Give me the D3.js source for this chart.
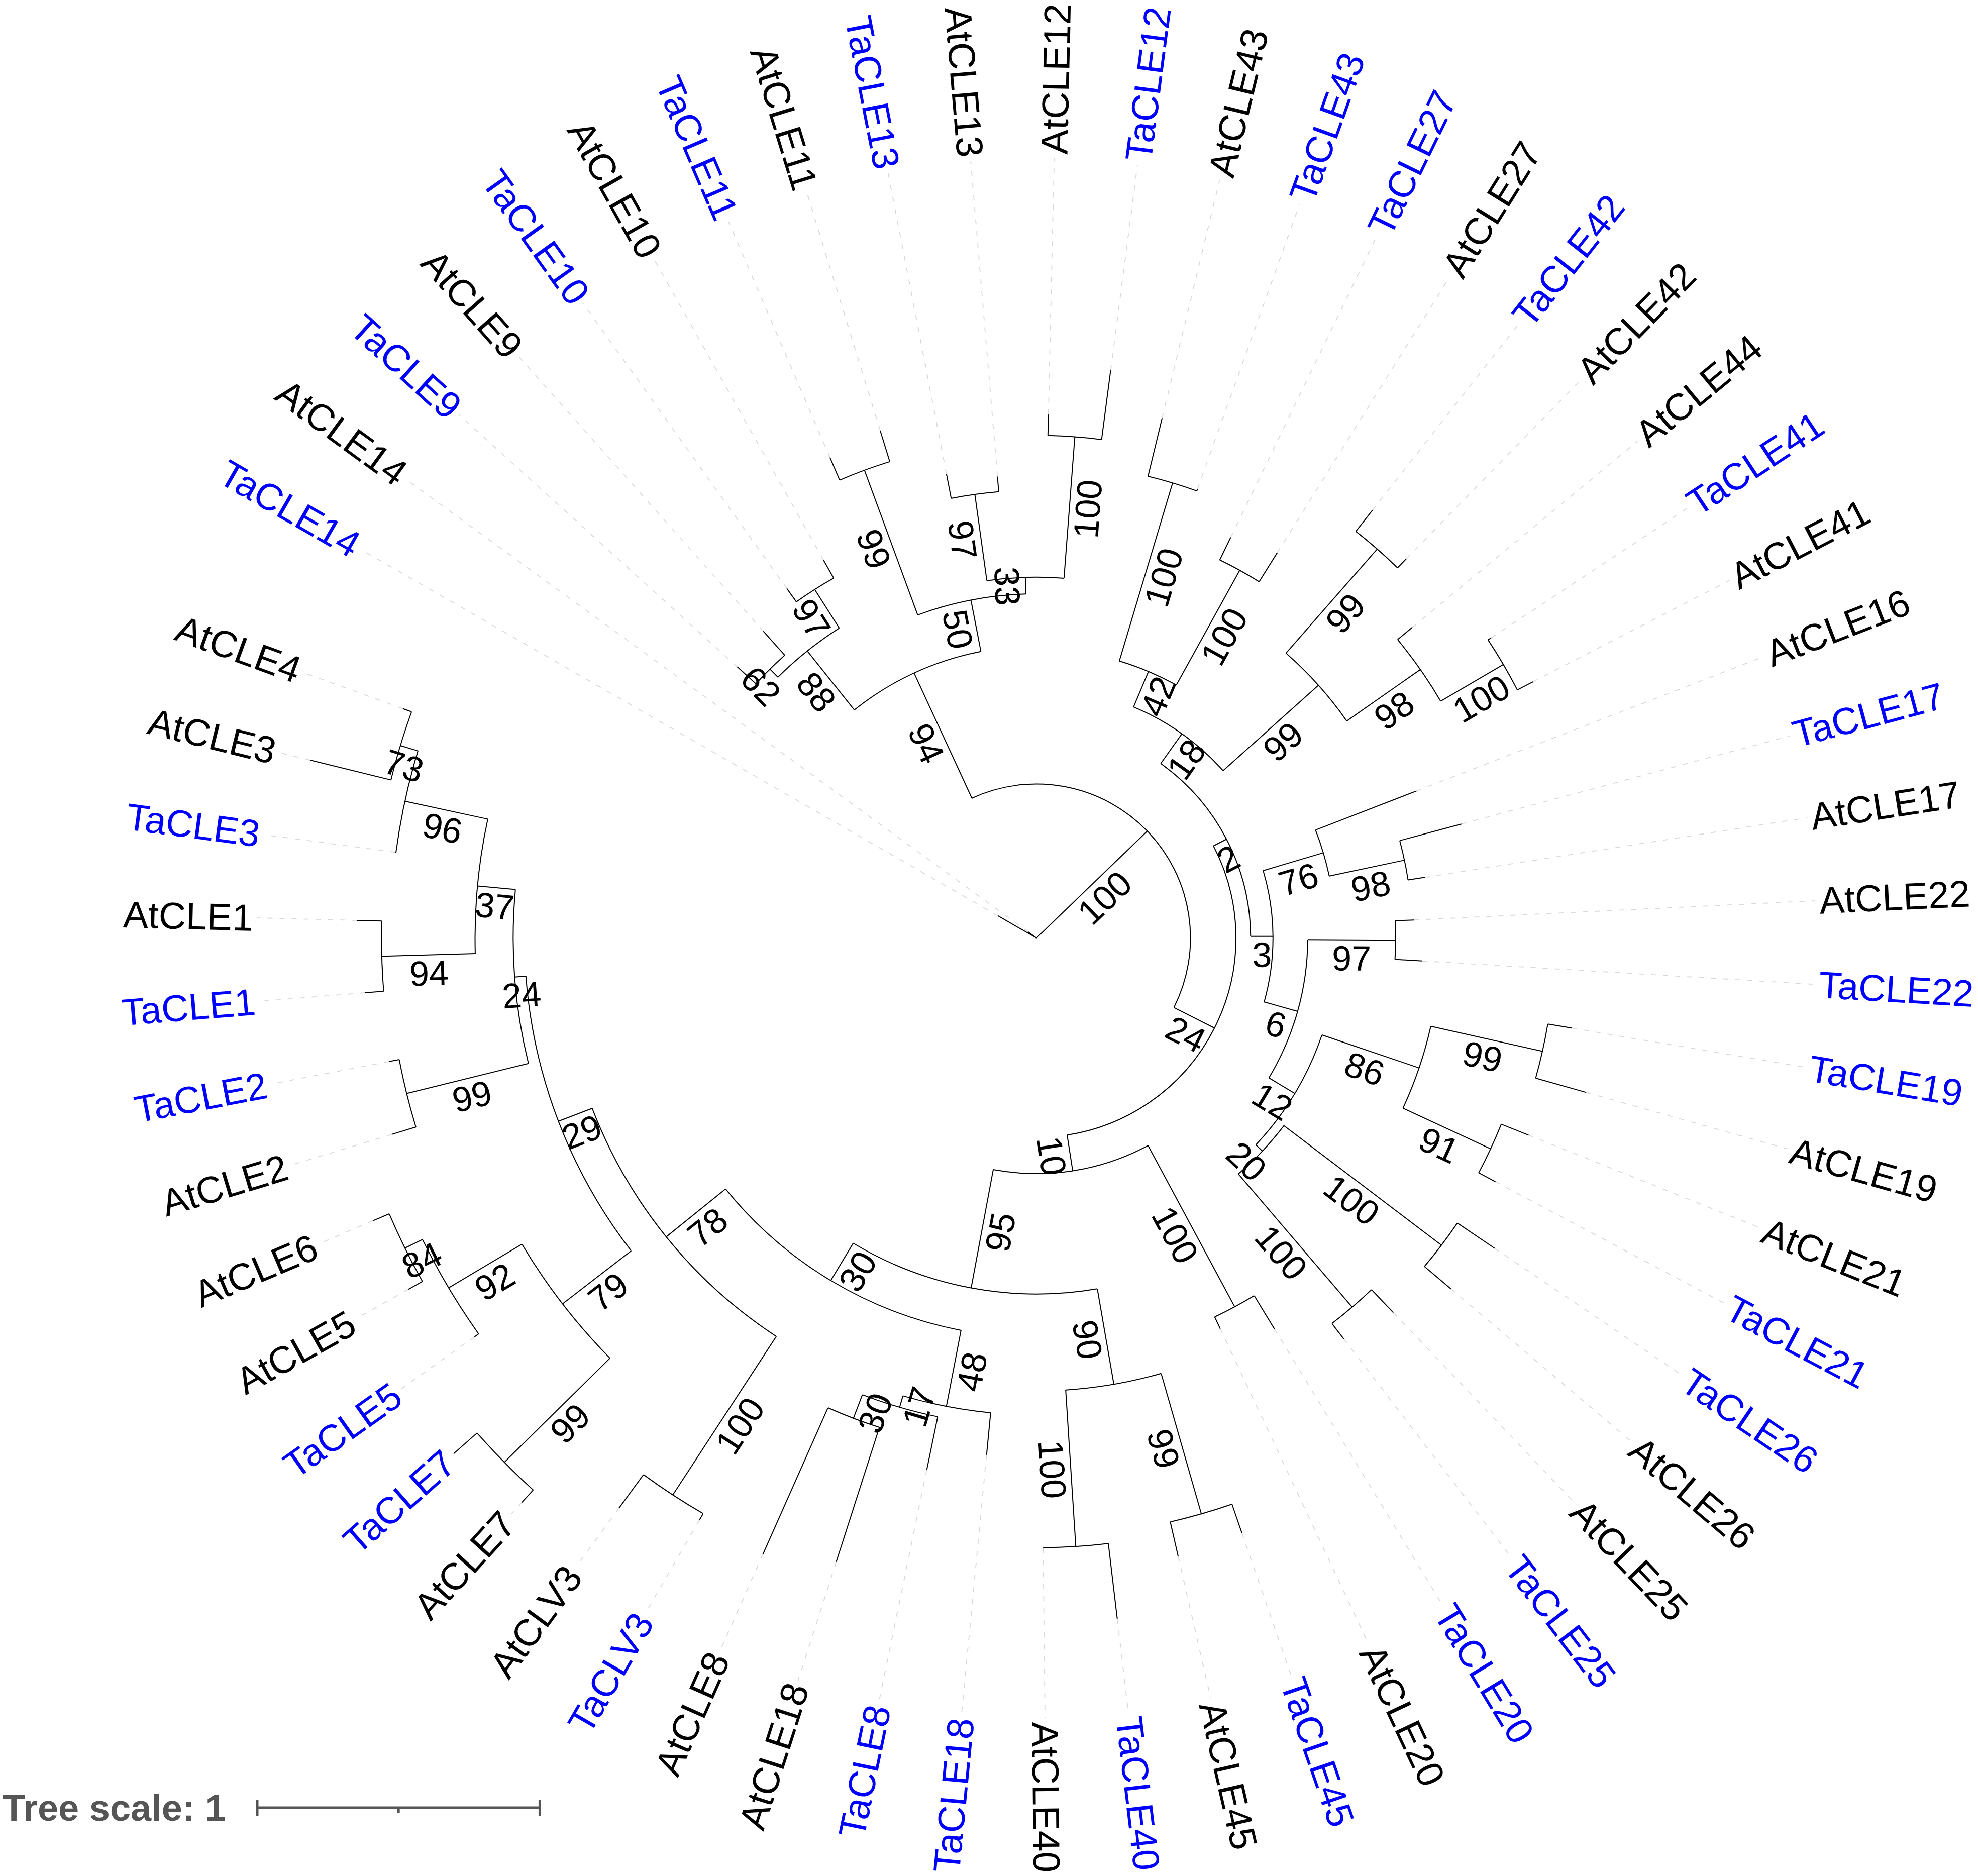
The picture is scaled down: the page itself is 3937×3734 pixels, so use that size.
<!DOCTYPE html>
<html><head><meta charset="utf-8">
<script src="https://cdn.jsdelivr.net/npm/d3@7"></script>
<style>html,body{margin:0;padding:0;background:#fff;} svg{display:block;}</style>
</head><body>
<svg id="chart" width="3937" height="3734"></svg>
<script>
// ---------- DATA ----------
// Leaves in clockwise display order
const leafNames = ["TaCLE14","AtCLE14","TaCLE9","AtCLE9","TaCLE10","AtCLE10","TaCLE11","AtCLE11","TaCLE13","AtCLE13",
 "AtCLE12","TaCLE12","AtCLE43","TaCLE43","TaCLE27","AtCLE27","TaCLE42","AtCLE42","AtCLE44","TaCLE41",
 "AtCLE41","AtCLE16","TaCLE17","AtCLE17","AtCLE22","TaCLE22","TaCLE19","AtCLE19","AtCLE21","TaCLE21",
 "TaCLE26","AtCLE26","AtCLE25","TaCLE25","TaCLE20","AtCLE20","TaCLE45","AtCLE45","TaCLE40","AtCLE40",
 "TaCLE18","TaCLE8","AtCLE18","AtCLE8","TaCLV3","AtCLV3","AtCLE7","TaCLE7","TaCLE5","AtCLE5",
 "AtCLE6","AtCLE2","TaCLE2","TaCLE1","AtCLE1","TaCLE3","AtCLE3","AtCLE4"];
const leafParents = ["root","root","i4","i4","i5","i5","i7","i7","i9","i9",
 "i10","i10","i15","i15","i16","i16","i18","i18","i19","i20",
 "i20","i22","i23","i23","i25","i25","i28","i28","i29","i29",
 "i31","i31","i32","i32","i34","i34","i37","i37","i38","i38",
 "i40","i41","i42","i42","i44","i44","i47","i47","i48","i49",
 "i49","i51","i51","i53","i53","i54","i55","i55"];
const leafLengths = [0.157,0.036,0.089,0.114,0.058,0.074,0.087,0.115,0.088,0.054,
 0.074,0.249,0.212,0.007,0.089,0.121,0.095,0.045,0.068,0.014,
 0.063,0.383,0.226,0.060,0.067,0.097,0.086,0.186,0.104,0.067,
 0.159,0.123,0.112,0.069,0.138,0.046,0.108,0.125,0.268,0.001,
 0.150,0.192,0.500,0.567,0.027,0.147,0.059,0.109,0.018,0.058,
 0.063,0.089,0.036,0.067,0.088,0.002,0.294,0.033];
// Internal nodes
const nodeNames = ["i1","i2","i3","i4","i5","i6","i7","i8","i9","i10",
 "i11","i12","i13","i14","i15","i16","i17","i18","i19","i20",
 "i21","i22","i23","i24","i25","i26","i27","i28","i29","i30",
 "i31","i32","i33","i34","i35","i36","i37","i38","i39","i40",
 "i41","i42","i43","i44","i45","i46","i47","i48","i49","i50",
 "i51","i52","i53","i54","i55"];
const nodeParents = ["root","i1","i2","i3","i3","i2","i6","i6","i8","i8",
 "i1","i11","i12","i13","i14","i14","i13","i17","i17","i19",
 "i12","i21","i22","i21","i24","i24","i26","i27","i27","i26",
 "i30","i30","i11","i33","i33","i35","i36","i36","i35","i39",
 "i40","i41","i39","i43","i43","i45","i46","i46","i48","i45",
 "i50","i50","i52","i52","i54"];
const nodeSupport = [100,94,88,62,97,50,99,33,97,100,
 24,2,18,42,100,100,99,99,98,100,
 3,76,98,6,97,12,86,99,91,20,
 100,100,10,100,95,90,99,100,30,48,
 17,30,78,100,29,79,99,92,84,24,
 99,37,94,96,73];
const nodeLengths = [0.545,0.488,0.267,0.040,0.162,0.185,0.546,0.059,0.308,0.502,
 0.161,0.052,0.129,0.136,0.658,0.464,0.453,0.490,0.318,0.257,
 0.079,0.222,0.272,0.123,0.311,0.107,0.363,0.405,0.342,0.032,
 0.700,0.620,0.128,0.648,0.426,0.343,0.517,0.555,0.154,0.274,
 0.042,0.089,0.270,0.670,0.128,0.307,0.525,0.302,0.069,0.040,
 0.444,0.135,0.331,0.300,0.065];
const scaleTicks = [0, 0.5, 1];
const scaleTitle = "Tree scale: 1";

// ---------- LAYOUT ----------
const W = 3937, H = 3734;
const cx = 2063, cy = 1867;
const unitPx = 562.4;
const labelR = 1560;
const FONT = "'Liberation Sans', Arial, Helvetica, sans-serif";

const rows = [{id:"root", parent:null, len:0}]
  .concat(nodeNames.map((n,i)=>({id:n, parent:nodeParents[i], len:nodeLengths[i], support:nodeSupport[i]})))
  .concat(leafNames.map((n,i)=>({id:n, parent:leafParents[i], len:leafLengths[i], leafIndex:i})));
const root = d3.stratify().id(d=>d.id).parentId(d=>d.parent)(rows);
root.eachAfter(n => { n.minIdx = n.children ? d3.min(n.children, c=>c.minIdx) : n.data.leafIndex; });
root.sort((a,b)=>a.minIdx-b.minIdx);
root.eachBefore(n => { n.dist = n.parent ? n.parent.dist + n.data.len : 0; });

const rScale = d3.scaleLinear().domain([0,1]).range([0, unitPx]);
const aScale = d3.scaleLinear().domain([0, leafNames.length-1]).range([-150.1, 199.9]);
root.eachAfter(n => {
  n.theta = n.children ? (n.children[0].theta + n.children[n.children.length-1].theta)/2 : aScale(n.data.leafIndex);
});

const rad = d => d*Math.PI/180;
const pt = (rr, th) => [rr*Math.cos(rad(th)), rr*Math.sin(rad(th))];
const norm = t => ((t+180)%360+360)%360-180;
const isRight = t => { const n = norm(t); return n > -90 && n <= 90; };

const svg = d3.select("#chart");
svg.append("rect").attr("width",W).attr("height",H).attr("fill","#fff");
const g = svg.append("g").attr("transform",`translate(${cx},${cy})`);

// dashed leaf connectors
g.append("g").selectAll("line").data(root.leaves()).join("line")
  .attr("x1", d=>pt(rScale(d.dist), d.theta)[0]).attr("y1", d=>pt(rScale(d.dist), d.theta)[1])
  .attr("x2", d=>pt(labelR-8, d.theta)[0]).attr("y2", d=>pt(labelR-8, d.theta)[1])
  .attr("stroke","#d8d8d8").attr("stroke-width",1.8).attr("stroke-dasharray","10,14");

// branches
g.append("g").selectAll("path").data(root.descendants()).join("path")
  .attr("d", n => {
    const p = d3.path();
    if (n.parent) {
      const [x0,y0] = pt(rScale(n.parent.dist), n.theta);
      const [x1,y1] = pt(rScale(n.dist), n.theta);
      p.moveTo(x0,y0); p.lineTo(x1,y1);
    }
    if (n.children && n.parent) {
      const a0 = rad(n.children[0].theta), a1 = rad(n.children[n.children.length-1].theta);
      const rr = rScale(n.dist);
      p.moveTo(rr*Math.cos(a0), rr*Math.sin(a0));
      p.arc(0,0,rr,a0,a1,false);
    }
    return p.toString();
  })
  .attr("fill","none").attr("stroke","#000").attr("stroke-width",2);

// bootstrap labels
g.append("g").selectAll("text").data(root.descendants().filter(n=>n.children && n.parent)).join("text")
  .attr("transform", d => {
    const m = (rScale(d.parent.dist)+rScale(d.dist))/2;
    const [x,y] = pt(m, d.theta);
    const rot = isRight(d.theta) ? d.theta : d.theta+180;
    return `translate(${x},${y}) rotate(${rot})`;
  })
  .attr("y", 61).attr("text-anchor","middle")
  .attr("font-family", FONT).attr("font-size", 70).attr("fill","#000")
  .text(d=>d.data.support);

// leaf labels
g.append("g").selectAll("text").data(root.leaves()).join("text")
  .attr("transform", d => {
    const [x,y] = pt(labelR, d.theta);
    const rot = isRight(d.theta) ? d.theta : d.theta+180;
    return `translate(${x},${y}) rotate(${rot})`;
  })
  .attr("text-anchor", d => isRight(d.theta) ? "start" : "end")
  .attr("dominant-baseline","central")
  .attr("font-family", FONT).attr("font-size", 75)
  .attr("fill", d => d.id.startsWith("Ta") ? "#0000ff" : "#000")
  .text(d=>d.id);

// scale bar
const sx = d3.scaleLinear().domain([0,1]).range([512, 512+unitPx]);
const sy = 3598;
const sb = svg.append("g");
sb.append("line").attr("x1", sx(0)).attr("x2", sx(1)).attr("y1", sy).attr("y2", sy)
  .attr("stroke","#555").attr("stroke-width",5);
sb.selectAll("line.tick").data(scaleTicks).join("line").attr("class","tick")
  .attr("x1", d=>sx(d)).attr("x2", d=>sx(d))
  .attr("y1", d=> (d===0.5) ? sy : sy-16)
  .attr("y2", d=> (d===0.5) ? sy+10 : sy+16)
  .attr("stroke","#555").attr("stroke-width",5);
sb.append("text").attr("x", 5).attr("y", sy).attr("dominant-baseline","central")
  .attr("font-family", FONT).attr("font-weight","bold").attr("font-size",74).attr("fill","#555")
  .text(scaleTitle);
</script>
</body></html>
